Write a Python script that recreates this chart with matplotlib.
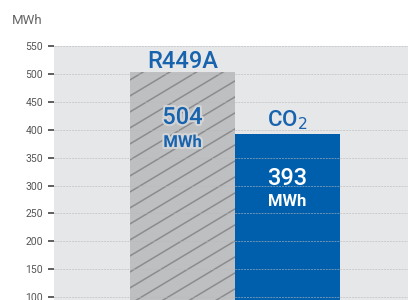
import matplotlib
matplotlib.use("Agg")
import matplotlib.pyplot as plt
import matplotlib.patheffects as pe
import numpy as np

categories = ["R449A", "CO$_2$"]
values = [504, 393]
unit = "MWh"
yticks = [0, 50, 100, 150, 200, 250, 300, 350, 400, 450, 500, 550]

W, H = 408, 300
fig = plt.figure(figsize=(W / 100, H / 100), dpi=100)
fig.patch.set_facecolor("white")

left_px, right_px = 54, 408
top_px = 46
px_per_unit = 27.9 / 50
bottom_px = top_px + 550 * px_per_unit
ax = fig.add_axes([left_px / W, 1 - bottom_px / H, (right_px - left_px) / W, (bottom_px - top_px) / H])
ax.set_facecolor("#e6e7e9")
ax.set_ylim(0, 550)
ax.set_xlim(-1.224, 2.148)

blue = "#005fad"
text_blue = "#1863ad"

bars = ax.bar([0, 1], values, width=1.0, color=["#bebfc1", blue], linewidth=0, zorder=2)

# diagonal hatch on first bar (shallow angle lines)
hb = bars[0]
slope_data = 0.6 * 105 * (50 / 27.9)
spacing = 16 / px_per_unit
x0, x1 = hb.get_x(), hb.get_x() + hb.get_width()
for off in np.arange(-slope_data, values[0] + spacing, spacing):
    ln, = ax.plot([x0, x1], [off, off + slope_data], color="#8c8c8e", lw=1.1, zorder=3)
    ln.set_clip_path(hb)

ax.set_yticks(yticks)
ax.set_yticklabels([str(v) for v in yticks], fontsize=7.5, color="#555555", family="Roboto")
ax.tick_params(axis="y", length=4, width=1.2, color="#444444", pad=4)
ax.set_xticks([])
for v in yticks[1:]:
    ax.axhline(v, color="#b8b9bb", alpha=0.6, linestyle=(0, (2, 1)), linewidth=0.7, zorder=4)
for s in ax.spines.values():
    s.set_visible(False)

font = "Roboto"
glow = [pe.withStroke(linewidth=3, foreground="#d3d4d6")]
ax.text(0, values[0] + 19, categories[0], ha="center", va="center", fontsize=17, color=text_blue, family=font, fontweight="medium", zorder=5)
ax.text(1, values[1] + 24, categories[1], ha="center", va="center", fontsize=16, color=text_blue, family=font, fontweight="medium", zorder=5)
ax.text(0, values[0] - 82, str(values[0]), ha="center", va="center", fontsize=17, color=text_blue, family=font, fontweight="medium", path_effects=glow, zorder=5)
ax.text(0, values[0] - 127, unit, ha="center", va="center", fontsize=12, fontweight="bold", color=text_blue, family=font, path_effects=glow, zorder=5)
ax.text(1, values[1] - 80, str(values[1]), ha="center", va="center", fontsize=17, color="white", family=font, fontweight="medium", zorder=5)
ax.text(1, values[1] - 122, unit, ha="center", va="center", fontsize=12, fontweight="bold", color="white", family=font, zorder=5)

fig.text(12 / W, 1 - 20 / H, unit, ha="left", va="center", fontsize=9.5, color="#666666", family=font)

fig.savefig("out.png", dpi=100)
